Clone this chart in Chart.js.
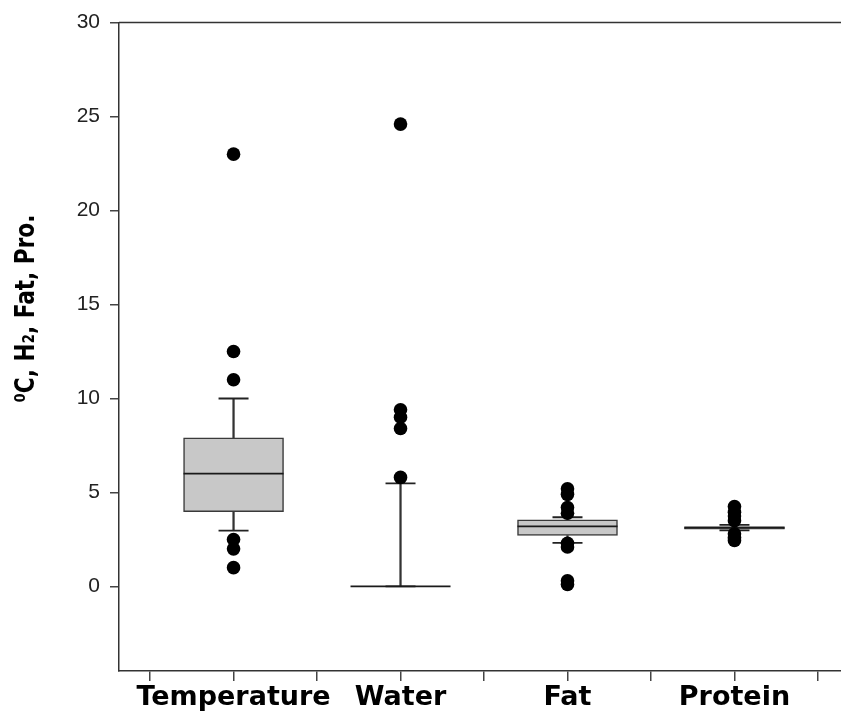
<!DOCTYPE html>
<html><head><meta charset="utf-8">
<script src="https://cdn.jsdelivr.net/npm/chart.js@4/dist/chart.umd.min.js"></script>
<style>html,body{margin:0;padding:0;background:#fff}#wrap{width:841px;height:715px;position:relative}</style>
</head><body><div id="wrap"><canvas id="c"></canvas></div>
<script>
const categories = ['Temperature', 'Water', 'Fat', 'Protein'];
const q1 = [3.98, 0, 2.71, 3.05];
const medians = [6.0, 0, 3.2, 3.12];
const q3 = [7.9, 0, 3.54, 3.18];
const whiskerLow = [2.97, 0, 2.32, 2.98];
const whiskerHigh = [10.0, 5.48, 3.68, 3.28];
const outliersTemperature = [23.0, 12.5, 11.0, 2.5, 2.0, 1.0];
const outliersWater = [24.6, 9.4, 9.0, 8.4, 5.8];
const outliersFat = [5.2, 4.9, 4.2, 3.9, 2.3, 2.1, 0.3, 0.1];
const outliersProtein = [4.25, 3.95, 3.75, 3.5, 2.8, 2.6, 2.45];
const yTicks = [0, 5, 10, 15, 20, 25, 30];
const xTicks = [0.5, 1, 1.5, 2, 2.5, 3, 3.5, 4, 4.5];
const yTitle = '\u2070C, H\u2082, Fat, Pro.';

const outlierLists = [outliersTemperature, outliersWater, outliersFat, outliersProtein];
const pos = categories.map((c, i) => i + 1);

const outlierPoints = [];
outlierLists.forEach((list, i) => list.forEach(v => outlierPoints.push({x: pos[i], y: v})));
const capPoints = [];
pos.forEach((p, i) => { capPoints.push({x: p, y: whiskerHigh[i]}); capPoints.push({x: p, y: whiskerLow[i]}); });

const frameAndTitle = {
  id: 'frameAndTitle',
  afterDraw(chart) {
    const {ctx, chartArea: a} = chart;
    ctx.save();
    ctx.strokeStyle = '#333';
    ctx.lineWidth = 1.5;
    ctx.beginPath();
    ctx.moveTo(a.left, a.top);
    ctx.lineTo(a.right, a.top);
    ctx.stroke();
    ctx.restore();

    ctx.save();
    ctx.translate(27, a.top + 286);
    ctx.rotate(-Math.PI / 2);
    ctx.textAlign = 'center';
    ctx.textBaseline = 'middle';
    ctx.fillStyle = '#000';
    ctx.font = 'bold 27px "Liberation Sans Narrow", "DejaVu Sans Condensed", "Liberation Sans", sans-serif';
    ctx.fillText(yTitle, 0, 0, 188);
    ctx.restore();
  }
};

new Chart(document.getElementById('c'), {
  type: 'bar',
  data: {
    datasets: [
      {
        type: 'scatter', label: 'Outliers',
        data: outlierPoints,
        pointRadius: 6.8, pointHoverRadius: 6.8,
        backgroundColor: '#000', borderWidth: 0, order: 1
      },
      {
        type: 'scatter', label: 'Medians',
        data: pos.map((p, i) => ({x: p, y: medians[i]})),
        pointStyle: 'line', pointRadius: 50, pointHoverRadius: 50,
        borderColor: '#1a1a1a', borderWidth: 1.8, order: 2
      },
      {
        type: 'scatter', label: 'Caps',
        data: capPoints,
        pointStyle: 'line', pointRadius: 15, pointHoverRadius: 15,
        borderColor: '#222', borderWidth: 1.8, order: 2
      },
      {
        type: 'bar', label: 'Boxes',
        data: pos.map((p, i) => ({x: p, y: [q1[i], q3[i]]})),
        backgroundColor: '#c8c8c8', borderColor: '#3a3a3a', borderWidth: 1.5,
        borderSkipped: false, barThickness: 100, grouped: false, order: 3
      },
      {
        type: 'bar', label: 'Upper whiskers',
        data: pos.map((p, i) => ({x: p, y: [q3[i], whiskerHigh[i]]})),
        backgroundColor: '#333', borderWidth: 0, barThickness: 1.6, grouped: false, order: 4
      },
      {
        type: 'bar', label: 'Lower whiskers',
        data: pos.map((p, i) => ({x: p, y: [whiskerLow[i], q1[i]]})),
        backgroundColor: '#333', borderWidth: 0, barThickness: 1.6, grouped: false, order: 4
      }
    ]
  },
  options: {
    responsive: true, maintainAspectRatio: false, animation: false,
    layout: {autoPadding: false, padding: {top: 20, left: 0, right: 0, bottom: 0}},
    plugins: {legend: {display: false}, tooltip: {enabled: false}},
    scales: {
      x: {
        type: 'linear', position: 'bottom', min: 0.314, max: 4.638, offset: false,
        afterBuildTicks: s => { s.ticks = xTicks.map(v => ({value: v})); },
        afterFit: s => { s.height = 44; },
        grid: {display: true, offset: false, drawOnChartArea: false, drawTicks: true, tickLength: 10, color: '#444', lineWidth: 1.5},
        border: {display: true, color: '#333', width: 1.5},
        ticks: {
          autoSkip: false, maxRotation: 0, minRotation: 0, padding: 1, color: '#000',
          font: {family: '"DejaVu Sans", Verdana, sans-serif', weight: 'bold', size: 27},
          callback: v => Number.isInteger(v) ? categories[v - 1] : ''
        }
      },
      y: {
        type: 'linear', min: -4.5, max: 30,
        afterBuildTicks: s => { s.ticks = yTicks.map(v => ({value: v})); },
        afterFit: s => { s.width = 119; },
        grid: {display: true, offset: false, drawOnChartArea: false, drawTicks: true, tickLength: 9, color: '#444', lineWidth: 1.5},
        border: {display: true, color: '#333', width: 1.5},
        ticks: {
          padding: 10, color: '#222',
          font: {family: '"Liberation Sans", Arial, sans-serif', size: 21}
        },
        title: {display: false}
      }
    }
  },
  plugins: [frameAndTitle]
});
</script>
</body></html>
